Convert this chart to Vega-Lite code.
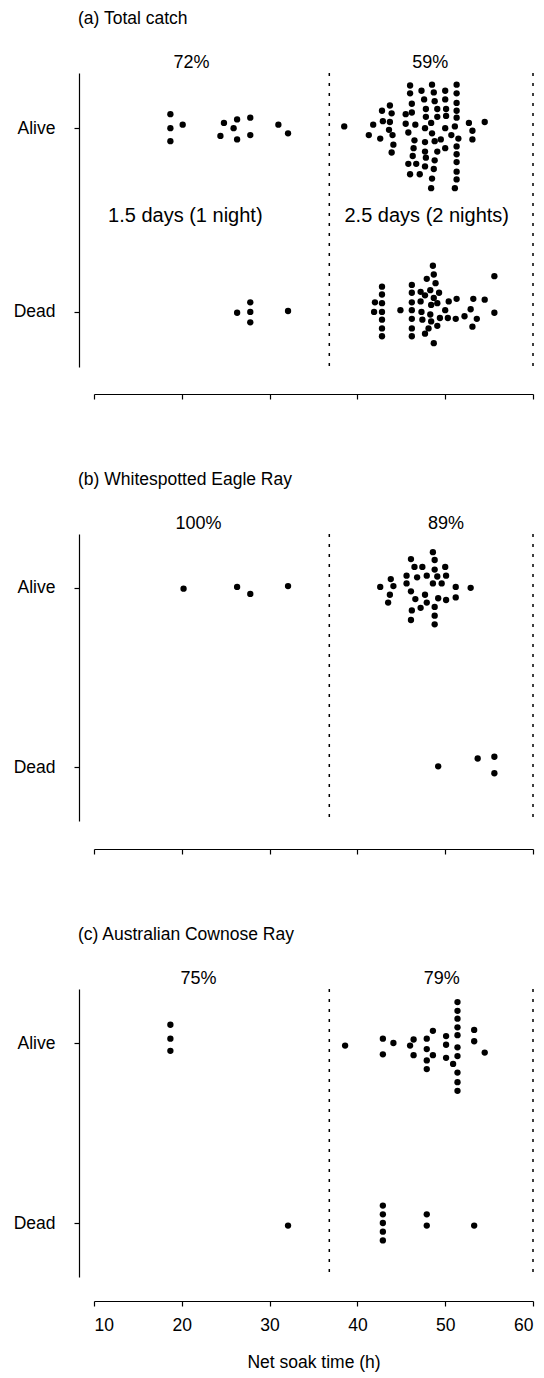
{
  "$schema": "https://vega.github.io/schema/vega-lite/v6.json",
  "background": "white",
  "padding": {"left": 13, "top": 9, "right": 5, "bottom": 5},
  "spacing": 70,
  "config": {
    "font": "Liberation Sans",
    "view": {"stroke": null},
    "axis": {
      "grid": false,
      "domainColor": "black",
      "domainWidth": 1.2,
      "tickColor": "black",
      "tickWidth": 1.2,
      "tickSize": 5,
      "labelColor": "black",
      "labelFont": "Liberation Sans",
      "labelFontSize": 17.5,
      "titleColor": "black",
      "titleFont": "Liberation Sans",
      "titleFontSize": 17.5,
      "titleFontWeight": "normal"
    },
    "title": {"font": "Liberation Sans", "fontSize": 17.5, "fontWeight": "normal", "color": "black", "anchor": "start", "frame": "group", "dx": -16, "offset": 27},
    "text": {"font": "Liberation Sans", "fontSize": 18, "color": "black"}
  },
  "datasets": {
    "catch": [
      {"panel": "a", "status": "Alive", "hours": 18.7, "lane": 1.6},
      {"panel": "a", "status": "Alive", "hours": 18.7, "lane": 0.0},
      {"panel": "a", "status": "Alive", "hours": 18.7, "lane": -1.5},
      {"panel": "a", "status": "Alive", "hours": 20.1, "lane": 0.4},
      {"panel": "a", "status": "Alive", "hours": 24.8, "lane": 0.6},
      {"panel": "a", "status": "Alive", "hours": 26.3, "lane": 1.0},
      {"panel": "a", "status": "Alive", "hours": 27.8, "lane": 1.2},
      {"panel": "a", "status": "Alive", "hours": 25.9, "lane": 0.0},
      {"panel": "a", "status": "Alive", "hours": 24.4, "lane": -0.9},
      {"panel": "a", "status": "Alive", "hours": 26.3, "lane": -1.3},
      {"panel": "a", "status": "Alive", "hours": 27.8, "lane": -0.8},
      {"panel": "a", "status": "Alive", "hours": 31.0, "lane": 0.4},
      {"panel": "a", "status": "Alive", "hours": 32.1, "lane": -0.6},
      {"panel": "a", "status": "Alive", "hours": 46.0, "lane": 4.9},
      {"panel": "a", "status": "Alive", "hours": 48.5, "lane": 5.0},
      {"panel": "a", "status": "Alive", "hours": 51.3, "lane": 5.0},
      {"panel": "a", "status": "Alive", "hours": 47.3, "lane": 4.3},
      {"panel": "a", "status": "Alive", "hours": 48.7, "lane": 4.1},
      {"panel": "a", "status": "Alive", "hours": 50.0, "lane": 4.3},
      {"panel": "a", "status": "Alive", "hours": 46.0, "lane": 4.0},
      {"panel": "a", "status": "Alive", "hours": 51.3, "lane": 4.0},
      {"panel": "a", "status": "Alive", "hours": 47.6, "lane": 3.3},
      {"panel": "a", "status": "Alive", "hours": 48.8, "lane": 3.1},
      {"panel": "a", "status": "Alive", "hours": 50.0, "lane": 3.3},
      {"panel": "a", "status": "Alive", "hours": 51.3, "lane": 2.9},
      {"panel": "a", "status": "Alive", "hours": 43.7, "lane": 2.6},
      {"panel": "a", "status": "Alive", "hours": 46.2, "lane": 2.8},
      {"panel": "a", "status": "Alive", "hours": 42.8, "lane": 2.0},
      {"panel": "a", "status": "Alive", "hours": 47.8, "lane": 2.2},
      {"panel": "a", "status": "Alive", "hours": 49.1, "lane": 2.2},
      {"panel": "a", "status": "Alive", "hours": 50.1, "lane": 2.2},
      {"panel": "a", "status": "Alive", "hours": 51.3, "lane": 2.0},
      {"panel": "a", "status": "Alive", "hours": 43.9, "lane": 1.7},
      {"panel": "a", "status": "Alive", "hours": 45.5, "lane": 1.6},
      {"panel": "a", "status": "Alive", "hours": 46.2, "lane": 1.8},
      {"panel": "a", "status": "Alive", "hours": 47.8, "lane": 1.3},
      {"panel": "a", "status": "Alive", "hours": 49.1, "lane": 1.3},
      {"panel": "a", "status": "Alive", "hours": 50.1, "lane": 1.4},
      {"panel": "a", "status": "Alive", "hours": 51.3, "lane": 1.2},
      {"panel": "a", "status": "Alive", "hours": 42.9, "lane": 0.8},
      {"panel": "a", "status": "Alive", "hours": 43.7, "lane": 0.7},
      {"panel": "a", "status": "Alive", "hours": 45.5, "lane": 0.5},
      {"panel": "a", "status": "Alive", "hours": 46.6, "lane": 0.4},
      {"panel": "a", "status": "Alive", "hours": 48.4, "lane": 0.6},
      {"panel": "a", "status": "Alive", "hours": 52.7, "lane": 0.6},
      {"panel": "a", "status": "Alive", "hours": 54.5, "lane": 0.7},
      {"panel": "a", "status": "Alive", "hours": 38.5, "lane": 0.2},
      {"panel": "a", "status": "Alive", "hours": 41.8, "lane": 0.4},
      {"panel": "a", "status": "Alive", "hours": 47.7, "lane": 0.0},
      {"panel": "a", "status": "Alive", "hours": 50.0, "lane": 0.0},
      {"panel": "a", "status": "Alive", "hours": 51.1, "lane": 0.2},
      {"panel": "a", "status": "Alive", "hours": 43.6, "lane": -0.2},
      {"panel": "a", "status": "Alive", "hours": 45.8, "lane": -0.5},
      {"panel": "a", "status": "Alive", "hours": 48.5, "lane": -0.6},
      {"panel": "a", "status": "Alive", "hours": 50.7, "lane": -0.8},
      {"panel": "a", "status": "Alive", "hours": 53.1, "lane": -0.3},
      {"panel": "a", "status": "Alive", "hours": 41.3, "lane": -0.8},
      {"panel": "a", "status": "Alive", "hours": 42.6, "lane": -1.2},
      {"panel": "a", "status": "Alive", "hours": 44.0, "lane": -0.8},
      {"panel": "a", "status": "Alive", "hours": 51.5, "lane": -1.2},
      {"panel": "a", "status": "Alive", "hours": 46.5, "lane": -1.4},
      {"panel": "a", "status": "Alive", "hours": 47.7, "lane": -1.6},
      {"panel": "a", "status": "Alive", "hours": 48.8, "lane": -1.5},
      {"panel": "a", "status": "Alive", "hours": 49.5, "lane": -1.3},
      {"panel": "a", "status": "Alive", "hours": 53.1, "lane": -1.3},
      {"panel": "a", "status": "Alive", "hours": 44.1, "lane": -1.9},
      {"panel": "a", "status": "Alive", "hours": 46.4, "lane": -2.3},
      {"panel": "a", "status": "Alive", "hours": 47.7, "lane": -2.7},
      {"panel": "a", "status": "Alive", "hours": 49.1, "lane": -2.7},
      {"panel": "a", "status": "Alive", "hours": 50.0, "lane": -2.3},
      {"panel": "a", "status": "Alive", "hours": 51.3, "lane": -2.1},
      {"panel": "a", "status": "Alive", "hours": 43.9, "lane": -2.8},
      {"panel": "a", "status": "Alive", "hours": 46.3, "lane": -3.2},
      {"panel": "a", "status": "Alive", "hours": 47.8, "lane": -3.4},
      {"panel": "a", "status": "Alive", "hours": 51.3, "lane": -3.0},
      {"panel": "a", "status": "Alive", "hours": 45.8, "lane": -4.1},
      {"panel": "a", "status": "Alive", "hours": 46.7, "lane": -4.1},
      {"panel": "a", "status": "Alive", "hours": 47.7, "lane": -4.4},
      {"panel": "a", "status": "Alive", "hours": 48.8, "lane": -3.7},
      {"panel": "a", "status": "Alive", "hours": 51.3, "lane": -3.9},
      {"panel": "a", "status": "Alive", "hours": 48.7, "lane": -4.7},
      {"panel": "a", "status": "Alive", "hours": 51.3, "lane": -5.0},
      {"panel": "a", "status": "Alive", "hours": 46.0, "lane": -5.3},
      {"panel": "a", "status": "Alive", "hours": 47.1, "lane": -5.3},
      {"panel": "a", "status": "Alive", "hours": 51.3, "lane": -5.9},
      {"panel": "a", "status": "Alive", "hours": 48.5, "lane": -5.8},
      {"panel": "a", "status": "Alive", "hours": 48.4, "lane": -6.9},
      {"panel": "a", "status": "Alive", "hours": 51.1, "lane": -6.9},
      {"panel": "a", "status": "Dead", "hours": 26.3, "lane": -0.1},
      {"panel": "a", "status": "Dead", "hours": 27.8, "lane": 1.1},
      {"panel": "a", "status": "Dead", "hours": 27.8, "lane": 0.0},
      {"panel": "a", "status": "Dead", "hours": 27.8, "lane": -1.2},
      {"panel": "a", "status": "Dead", "hours": 32.1, "lane": 0.1},
      {"panel": "a", "status": "Dead", "hours": 42.8, "lane": 2.9},
      {"panel": "a", "status": "Dead", "hours": 42.8, "lane": 2.0},
      {"panel": "a", "status": "Dead", "hours": 42.8, "lane": 1.0},
      {"panel": "a", "status": "Dead", "hours": 42.8, "lane": 0.0},
      {"panel": "a", "status": "Dead", "hours": 42.8, "lane": -0.9},
      {"panel": "a", "status": "Dead", "hours": 42.8, "lane": -1.9},
      {"panel": "a", "status": "Dead", "hours": 42.8, "lane": -2.8},
      {"panel": "a", "status": "Dead", "hours": 42.0, "lane": 1.1},
      {"panel": "a", "status": "Dead", "hours": 41.9, "lane": 0.0},
      {"panel": "a", "status": "Dead", "hours": 44.9, "lane": 0.2},
      {"panel": "a", "status": "Dead", "hours": 46.2, "lane": 3.1},
      {"panel": "a", "status": "Dead", "hours": 46.2, "lane": 2.2},
      {"panel": "a", "status": "Dead", "hours": 46.2, "lane": 1.1},
      {"panel": "a", "status": "Dead", "hours": 46.2, "lane": 0.2},
      {"panel": "a", "status": "Dead", "hours": 46.2, "lane": -0.8},
      {"panel": "a", "status": "Dead", "hours": 46.2, "lane": -1.9},
      {"panel": "a", "status": "Dead", "hours": 46.2, "lane": -2.8},
      {"panel": "a", "status": "Dead", "hours": 47.2, "lane": 2.3},
      {"panel": "a", "status": "Dead", "hours": 47.2, "lane": 1.2},
      {"panel": "a", "status": "Dead", "hours": 47.3, "lane": 0.0},
      {"panel": "a", "status": "Dead", "hours": 47.4, "lane": -0.9},
      {"panel": "a", "status": "Dead", "hours": 47.7, "lane": -2.5},
      {"panel": "a", "status": "Dead", "hours": 47.9, "lane": 3.8},
      {"panel": "a", "status": "Dead", "hours": 48.6, "lane": 5.3},
      {"panel": "a", "status": "Dead", "hours": 48.7, "lane": 4.3},
      {"panel": "a", "status": "Dead", "hours": 48.9, "lane": 3.3},
      {"panel": "a", "status": "Dead", "hours": 48.3, "lane": 2.5},
      {"panel": "a", "status": "Dead", "hours": 47.7, "lane": 1.9},
      {"panel": "a", "status": "Dead", "hours": 49.3, "lane": 2.2},
      {"panel": "a", "status": "Dead", "hours": 48.7, "lane": 1.6},
      {"panel": "a", "status": "Dead", "hours": 49.1, "lane": 1.0},
      {"panel": "a", "status": "Dead", "hours": 48.4, "lane": 0.8},
      {"panel": "a", "status": "Dead", "hours": 48.3, "lane": -0.3},
      {"panel": "a", "status": "Dead", "hours": 48.4, "lane": -1.1},
      {"panel": "a", "status": "Dead", "hours": 48.1, "lane": -1.9},
      {"panel": "a", "status": "Dead", "hours": 49.1, "lane": -1.6},
      {"panel": "a", "status": "Dead", "hours": 48.7, "lane": -3.6},
      {"panel": "a", "status": "Dead", "hours": 49.4, "lane": -0.7},
      {"panel": "a", "status": "Dead", "hours": 50.4, "lane": 1.2},
      {"panel": "a", "status": "Dead", "hours": 51.3, "lane": 1.5},
      {"panel": "a", "status": "Dead", "hours": 50.0, "lane": 0.2},
      {"panel": "a", "status": "Dead", "hours": 50.3, "lane": -0.7},
      {"panel": "a", "status": "Dead", "hours": 51.2, "lane": -0.8},
      {"panel": "a", "status": "Dead", "hours": 52.2, "lane": -0.5},
      {"panel": "a", "status": "Dead", "hours": 52.9, "lane": 0.3},
      {"panel": "a", "status": "Dead", "hours": 53.2, "lane": 1.5},
      {"panel": "a", "status": "Dead", "hours": 53.6, "lane": -0.8},
      {"panel": "a", "status": "Dead", "hours": 53.1, "lane": -1.7},
      {"panel": "a", "status": "Dead", "hours": 54.5, "lane": 1.4},
      {"panel": "a", "status": "Dead", "hours": 55.6, "lane": 4.1},
      {"panel": "a", "status": "Dead", "hours": 55.6, "lane": -0.1},

      {"panel": "b", "status": "Alive", "hours": 20.2, "lane": -0.1},
      {"panel": "b", "status": "Alive", "hours": 26.3, "lane": 0.1},
      {"panel": "b", "status": "Alive", "hours": 27.8, "lane": -0.7},
      {"panel": "b", "status": "Alive", "hours": 32.1, "lane": 0.2},
      {"panel": "b", "status": "Alive", "hours": 48.6, "lane": 4.1},
      {"panel": "b", "status": "Alive", "hours": 46.1, "lane": 3.3},
      {"panel": "b", "status": "Alive", "hours": 48.8, "lane": 3.2},
      {"panel": "b", "status": "Alive", "hours": 46.5, "lane": 2.4},
      {"panel": "b", "status": "Alive", "hours": 47.4, "lane": 2.4},
      {"panel": "b", "status": "Alive", "hours": 50.0, "lane": 2.4},
      {"panel": "b", "status": "Alive", "hours": 48.8, "lane": 2.1},
      {"panel": "b", "status": "Alive", "hours": 45.6, "lane": 1.4},
      {"panel": "b", "status": "Alive", "hours": 46.8, "lane": 1.2},
      {"panel": "b", "status": "Alive", "hours": 47.9, "lane": 1.4},
      {"panel": "b", "status": "Alive", "hours": 49.1, "lane": 1.3},
      {"panel": "b", "status": "Alive", "hours": 50.1, "lane": 1.4},
      {"panel": "b", "status": "Alive", "hours": 43.8, "lane": 1.0},
      {"panel": "b", "status": "Alive", "hours": 45.6, "lane": 0.5},
      {"panel": "b", "status": "Alive", "hours": 48.6, "lane": 0.5},
      {"panel": "b", "status": "Alive", "hours": 49.6, "lane": 0.5},
      {"panel": "b", "status": "Alive", "hours": 42.6, "lane": 0.1},
      {"panel": "b", "status": "Alive", "hours": 44.1, "lane": 0.2},
      {"panel": "b", "status": "Alive", "hours": 51.2, "lane": 0.1},
      {"panel": "b", "status": "Alive", "hours": 52.9, "lane": 0.0},
      {"panel": "b", "status": "Alive", "hours": 46.1, "lane": -0.4},
      {"panel": "b", "status": "Alive", "hours": 43.7, "lane": -0.8},
      {"panel": "b", "status": "Alive", "hours": 47.7, "lane": -0.8},
      {"panel": "b", "status": "Alive", "hours": 46.6, "lane": -1.3},
      {"panel": "b", "status": "Alive", "hours": 49.2, "lane": -1.2},
      {"panel": "b", "status": "Alive", "hours": 50.1, "lane": -1.4},
      {"panel": "b", "status": "Alive", "hours": 51.2, "lane": -1.1},
      {"panel": "b", "status": "Alive", "hours": 47.9, "lane": -1.7},
      {"panel": "b", "status": "Alive", "hours": 43.5, "lane": -1.7},
      {"panel": "b", "status": "Alive", "hours": 47.2, "lane": -2.3},
      {"panel": "b", "status": "Alive", "hours": 48.8, "lane": -2.2},
      {"panel": "b", "status": "Alive", "hours": 46.2, "lane": -2.6},
      {"panel": "b", "status": "Alive", "hours": 48.8, "lane": -3.2},
      {"panel": "b", "status": "Alive", "hours": 46.1, "lane": -3.7},
      {"panel": "b", "status": "Alive", "hours": 48.8, "lane": -4.2},
      {"panel": "b", "status": "Dead", "hours": 49.2, "lane": 0.1},
      {"panel": "b", "status": "Dead", "hours": 53.7, "lane": 1.0},
      {"panel": "b", "status": "Dead", "hours": 55.6, "lane": 1.2},
      {"panel": "b", "status": "Dead", "hours": 55.6, "lane": -0.7},

      {"panel": "c", "status": "Alive", "hours": 18.7, "lane": 2.1},
      {"panel": "c", "status": "Alive", "hours": 18.7, "lane": 0.5},
      {"panel": "c", "status": "Alive", "hours": 18.7, "lane": -0.9},
      {"panel": "c", "status": "Alive", "hours": 38.6, "lane": -0.3},
      {"panel": "c", "status": "Alive", "hours": 42.9, "lane": 0.5},
      {"panel": "c", "status": "Alive", "hours": 42.9, "lane": -1.3},
      {"panel": "c", "status": "Alive", "hours": 44.1, "lane": 0.0},
      {"panel": "c", "status": "Alive", "hours": 46.0, "lane": -0.3},
      {"panel": "c", "status": "Alive", "hours": 46.4, "lane": 0.4},
      {"panel": "c", "status": "Alive", "hours": 46.4, "lane": -1.4},
      {"panel": "c", "status": "Alive", "hours": 47.9, "lane": 0.5},
      {"panel": "c", "status": "Alive", "hours": 47.9, "lane": -0.7},
      {"panel": "c", "status": "Alive", "hours": 47.9, "lane": -2.0},
      {"panel": "c", "status": "Alive", "hours": 47.9, "lane": -3.0},
      {"panel": "c", "status": "Alive", "hours": 48.6, "lane": 1.4},
      {"panel": "c", "status": "Alive", "hours": 48.6, "lane": -1.4},
      {"panel": "c", "status": "Alive", "hours": 50.1, "lane": 0.8},
      {"panel": "c", "status": "Alive", "hours": 50.1, "lane": -0.2},
      {"panel": "c", "status": "Alive", "hours": 50.1, "lane": -1.7},
      {"panel": "c", "status": "Alive", "hours": 50.9, "lane": -2.4},
      {"panel": "c", "status": "Alive", "hours": 51.4, "lane": 4.7},
      {"panel": "c", "status": "Alive", "hours": 51.4, "lane": 3.7},
      {"panel": "c", "status": "Alive", "hours": 51.4, "lane": 2.8},
      {"panel": "c", "status": "Alive", "hours": 51.4, "lane": 1.8},
      {"panel": "c", "status": "Alive", "hours": 51.4, "lane": 0.9},
      {"panel": "c", "status": "Alive", "hours": 51.4, "lane": -0.5},
      {"panel": "c", "status": "Alive", "hours": 51.4, "lane": -1.5},
      {"panel": "c", "status": "Alive", "hours": 51.4, "lane": -3.4},
      {"panel": "c", "status": "Alive", "hours": 51.4, "lane": -4.5},
      {"panel": "c", "status": "Alive", "hours": 51.4, "lane": -5.5},
      {"panel": "c", "status": "Alive", "hours": 53.3, "lane": 1.5},
      {"panel": "c", "status": "Alive", "hours": 53.3, "lane": 0.2},
      {"panel": "c", "status": "Alive", "hours": 54.5, "lane": -1.1},
      {"panel": "c", "status": "Dead", "hours": 32.1, "lane": -0.3},
      {"panel": "c", "status": "Dead", "hours": 42.9, "lane": 2.0},
      {"panel": "c", "status": "Dead", "hours": 42.9, "lane": 1.0},
      {"panel": "c", "status": "Dead", "hours": 42.9, "lane": 0.0},
      {"panel": "c", "status": "Dead", "hours": 42.9, "lane": -1.0},
      {"panel": "c", "status": "Dead", "hours": 42.9, "lane": -2.0},
      {"panel": "c", "status": "Dead", "hours": 47.9, "lane": 1.0},
      {"panel": "c", "status": "Dead", "hours": 47.9, "lane": -0.3},
      {"panel": "c", "status": "Dead", "hours": 53.3, "lane": -0.3}
    ],
    "shares": [
      {"panel": "a", "hours": 21.1, "label": "72%"},
      {"panel": "a", "hours": 48.3, "label": "59%"},
      {"panel": "b", "hours": 21.9, "label": "100%"},
      {"panel": "b", "hours": 50.1, "label": "89%"},
      {"panel": "c", "hours": 21.9, "label": "75%"},
      {"panel": "c", "hours": 49.6, "label": "79%"}
    ],
    "periods": [
      {"hours": 20.4, "label": "1.5 days (1 night)"},
      {"hours": 47.9, "label": "2.5 days (2 nights)"}
    ],
    "limits": [
      {"hours": 36.8},
      {"hours": 60}
    ]
  },
  "vconcat": [
    {
      "spacing": 0,
      "vconcat": [
        {
          "title": "(a) Total catch",
          "width": 439, "height": 16,
          "data": {"name": "shares"},
          "transform": [{"filter": "datum.panel === 'a'"}],
          "mark": {"type": "text"},
          "encoding": {
            "x": {"field": "hours", "type": "quantitative", "scale": {"domain": [10, 60], "nice": false, "zero": false}, "axis": null},
            "text": {"field": "label"}
          }
        },
        {
          "width": 439, "height": 294,
          "layer": [
            {
              "data": {"name": "limits"},
              "mark": {"type": "rule", "color": "black", "strokeWidth": 1.5, "strokeDash": [3, 7]},
              "encoding": {
                "x": {"field": "hours", "type": "quantitative", "scale": {"domain": [10, 60], "nice": false, "zero": false}}
              }
            },
            {
              "data": {"name": "periods"},
              "mark": {"type": "text", "dy": -4, "fontSize": 20},
              "encoding": {
                "x": {"field": "hours", "type": "quantitative"},
                "y": {"datum": "mid", "type": "nominal"},
                "text": {"field": "label"}
              }
            },
            {
              "data": {"name": "catch"},
              "transform": [{"filter": "datum.panel === 'a'"}],
              "mark": {"type": "circle", "size": 40, "opacity": 1, "color": "black"},
              "encoding": {
                "x": {"field": "hours", "type": "quantitative", "axis": {"values": [10, 20, 30, 40, 50, 60], "labels": false, "title": null, "offset": 27}},
                "y": {"field": "status", "type": "nominal", "scale": {"type": "point", "domain": ["Alive", "mid", "Dead"], "padding": 0.6}, "axis": {"values": ["Alive", "Dead"], "title": null, "offset": 15, "labelPadding": 19}},
                "yOffset": {"field": "lane", "type": "quantitative", "scale": {"domain": [-8, 8], "range": [69.6, -69.6]}}
              }
            }
          ]
        }
      ]
    },
    {
      "spacing": 0,
      "vconcat": [
        {
          "title": "(b) Whitespotted Eagle Ray",
          "width": 439, "height": 16,
          "data": {"name": "shares"},
          "transform": [{"filter": "datum.panel === 'b'"}],
          "mark": {"type": "text"},
          "encoding": {
            "x": {"field": "hours", "type": "quantitative", "scale": {"domain": [10, 60], "nice": false, "zero": false}, "axis": null},
            "text": {"field": "label"}
          }
        },
        {
          "width": 439, "height": 287,
          "layer": [
            {
              "data": {"name": "limits"},
              "mark": {"type": "rule", "color": "black", "strokeWidth": 1.5, "strokeDash": [3, 7]},
              "encoding": {
                "x": {"field": "hours", "type": "quantitative", "scale": {"domain": [10, 60], "nice": false, "zero": false}}
              }
            },
            {
              "data": {"name": "catch"},
              "transform": [{"filter": "datum.panel === 'b'"}],
              "mark": {"type": "circle", "size": 40, "opacity": 1, "color": "black"},
              "encoding": {
                "x": {"field": "hours", "type": "quantitative", "axis": {"values": [10, 20, 30, 40, 50, 60], "labels": false, "title": null, "offset": 28}},
                "y": {"field": "status", "type": "nominal", "scale": {"type": "point", "domain": ["Alive", "mid", "Dead"], "padding": 0.6}, "axis": {"values": ["Alive", "Dead"], "title": null, "offset": 15, "labelPadding": 19}},
                "yOffset": {"field": "lane", "type": "quantitative", "scale": {"domain": [-8, 8], "range": [69.6, -69.6]}}
              }
            }
          ]
        }
      ]
    },
    {
      "spacing": 0,
      "vconcat": [
        {
          "title": "(c) Australian Cownose Ray",
          "width": 439, "height": 16,
          "data": {"name": "shares"},
          "transform": [{"filter": "datum.panel === 'c'"}],
          "mark": {"type": "text"},
          "encoding": {
            "x": {"field": "hours", "type": "quantitative", "scale": {"domain": [10, 60], "nice": false, "zero": false}, "axis": null},
            "text": {"field": "label"}
          }
        },
        {
          "width": 439, "height": 288,
          "layer": [
            {
              "data": {"name": "limits"},
              "mark": {"type": "rule", "color": "black", "strokeWidth": 1.5, "strokeDash": [3, 7]},
              "encoding": {
                "x": {"field": "hours", "type": "quantitative", "scale": {"domain": [10, 60], "nice": false, "zero": false}}
              }
            },
            {
              "data": {"name": "catch"},
              "transform": [{"filter": "datum.panel === 'c'"}],
              "mark": {"type": "circle", "size": 40, "opacity": 1, "color": "black"},
              "encoding": {
                "x": {"field": "hours", "type": "quantitative", "axis": {"values": [10, 20, 30, 40, 50, 60], "title": "Net soak time (h)", "offset": 24, "labelPadding": 10, "titlePadding": 20}},
                "y": {"field": "status", "type": "nominal", "scale": {"type": "point", "domain": ["Alive", "mid", "Dead"], "padding": 0.6}, "axis": {"values": ["Alive", "Dead"], "title": null, "offset": 15, "labelPadding": 19}},
                "yOffset": {"field": "lane", "type": "quantitative", "scale": {"domain": [-8, 8], "range": [69.6, -69.6]}}
              }
            }
          ]
        }
      ]
    }
  ]
}
